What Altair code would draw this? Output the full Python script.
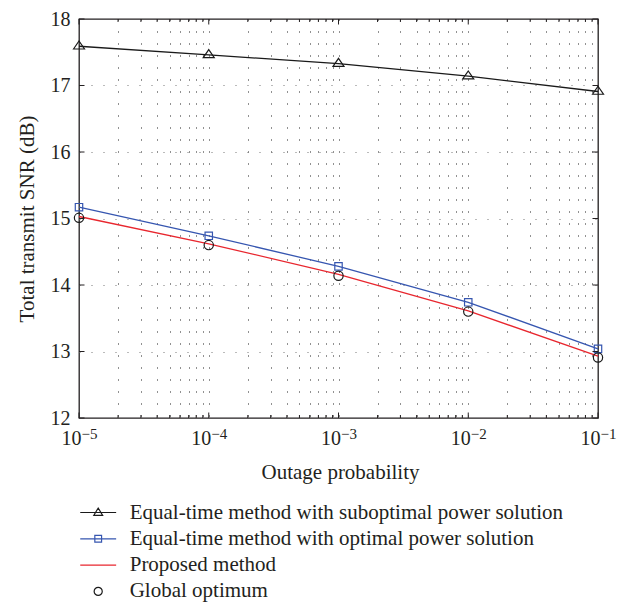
import altair as alt
import pandas as pd

# ---------------- data ----------------
x_vals = [1e-5, 1e-4, 1e-3, 1e-2, 1e-1]
suboptimal = [17.59, 17.46, 17.33, 17.14, 16.91]
optimal = [15.17, 14.74, 14.28, 13.74, 13.04]
proposed = [15.03, 14.62, 14.16, 13.61, 12.93]
global_opt = [15.01, 14.60, 14.14, 13.60, 12.91]

decades = [1e-5, 1e-4, 1e-3, 1e-2, 1e-1]
decade_base = ["10", "10", "10", "10", "10"]
decade_exp = ["\u22125", "\u22124", "\u22123", "\u22122", "\u22121"]
minor_mult = [2, 3, 4, 5, 6, 7, 8, 9]
y_ticks = [12, 13, 14, 15, 16, 17, 18]

names = [
    "Equal-time method with suboptimal power solution",
    "Equal-time method with optimal power solution",
    "Proposed method",
    "Global optimum",
]
colors = ["#1a1a1a", "#3656b0", "#e8262e", "#1a1a1a"]

# ---------------- styling ----------------
FONT = "Liberation Serif"
TXT = "#231f20"
PAD_TOP = 11
W, H = 519, 399

minor_x = [d * m for d in decades[:-1] for m in minor_mult]
grid_x = sorted(decades + minor_x)

xscale = alt.Scale(type="log", domain=[1e-5, 1e-1], nice=False)
yscale = alt.Scale(domain=[12, 18], nice=False, zero=False)

xaxis = alt.Axis(
    values=grid_x, grid=True, gridDash=[1, 11], gridColor="#222", gridWidth=1,
    gridOpacity={"condition": {"test": "datum.value < 1.5e-5 || datum.value > 0.095", "value": 0}, "value": 1},
    labels=False, ticks=False, domain=False,
    title="Outage probability", titleFont=FONT, titleFontSize=21, titleFontWeight="normal",
    titleColor=TXT, titleX=261, titleY=60, titleAlign="center", titleBaseline="alphabetic",
)
yaxis = alt.Axis(
    values=y_ticks, format="d", grid=True, gridDash=[1, 11], gridColor="#777", gridWidth=1,
    gridOpacity={"condition": {"test": "datum.value == 12 || datum.value == 18", "value": 0}, "value": 1},
    ticks=False, tickSize=0, domain=False, labelPadding=9,
    labelFont=FONT, labelFontSize=20, labelColor=TXT, labelBaseline="middle",
    title="Total transmit SNR (dB)", titleFont=FONT, titleFontSize=21, titleFontWeight="normal",
    titleColor=TXT, titleX=-52, titleY=H / 2, titleAngle=270, titleAlign="center", titleBaseline="middle",
)

X = alt.X("x:Q", scale=xscale, axis=xaxis)
Y = alt.Y("y:Q", scale=yscale, axis=yaxis)

def series_df(vals, name):
    return pd.DataFrame({"x": x_vals, "y": vals, "series": name})

df_sub = series_df(suboptimal, names[0])
df_opt = series_df(optimal, names[1])
df_pro = series_df(proposed, names[2])
df_glo = series_df(global_opt, names[3])
df_all = pd.concat([df_sub, df_opt, df_pro, df_glo])

# lines
l_sub = alt.Chart(df_sub).mark_line(color=colors[0], strokeWidth=1.3).encode(x=X, y=Y)
l_opt = alt.Chart(df_opt).mark_line(color=colors[1], strokeWidth=1.3).encode(x=X, y=Y)
l_pro = alt.Chart(df_pro).mark_line(color=colors[2], strokeWidth=1.3).encode(x=X, y=Y)

TRI = "M-1.1,0.55L0,-1.05L1.1,0.55Z"
m_sub = alt.Chart(df_sub).mark_point(shape=TRI, size=100, filled=False, color=colors[0],
                                     strokeWidth=1.2, opacity=1).encode(x=X, y=Y)
m_opt = alt.Chart(df_opt).mark_point(shape="square", size=55, filled=False, color=colors[1],
                                     strokeWidth=1.2, opacity=1).encode(x=X, y=Y)
m_glo = alt.Chart(df_glo).mark_point(shape="circle", size=86, filled=False, color=colors[3],
                                     strokeWidth=1.2, opacity=1).encode(x=X, y=Y)

# legend (symbols drawn by vega legend with custom paths)
leg_paths = [
    "M-1.33,0H1.33M-0.33,0.22L0,-0.33L0.33,0.22Z",
    "M-1.33,0H1.33M-0.25,-0.25H0.25V0.25H-0.25Z",
    "M-1.33,0H1.33",
    "M-0.3,0A0.3,0.3 0 1,0 0.3,0A0.3,0.3 0 1,0 -0.3,0",
]
legend = alt.Legend(
    orient="none", legendX=4.7, legendY=479, title=None, symbolSize=729,
    labelOffset=17, rowPadding=1.3, padding=0, labelFont=FONT, labelFontSize=21,
    labelColor=TXT, labelLimit=700, symbolStrokeWidth=1.2, symbolOpacity=1,
)
leg_layer = alt.Chart(df_all).mark_point(filled=False, opacity=0).encode(
    x=X, y=Y,
    color=alt.Color("series:N", scale=alt.Scale(domain=names, range=colors), legend=legend),
    shape=alt.Shape("series:N", scale=alt.Scale(domain=names, range=leg_paths), legend=legend),
)

# x tick labels  10^k
dec_df = pd.DataFrame({"x": decades, "base": decade_base, "exp": decade_exp})
lab_base = alt.Chart(dec_df).mark_text(align="right", dx=2.4, font=FONT, fontSize=20, color=TXT,
                                       baseline="alphabetic").encode(
    x=alt.X("x:Q", scale=xscale), y=alt.value(H + 27), text="base:N")
lab_exp = alt.Chart(dec_df).mark_text(align="left", dx=2.6, font=FONT, fontSize=15, color=TXT,
                                      baseline="alphabetic").encode(
    x=alt.X("x:Q", scale=xscale), y=alt.value(H + 21), text="exp:N")

# inward ticks
maj_df = pd.DataFrame({"x": decades})
min_df = pd.DataFrame({"x": minor_x})
yt_df = pd.DataFrame({"y": y_ticks})
TC = "#231f20"
t1 = alt.Chart(maj_df).mark_rule(color=TC, strokeWidth=1).encode(
    x=alt.X("x:Q", scale=xscale), y=alt.value(H), y2=alt.value(H - 5.5))
t2 = alt.Chart(maj_df).mark_rule(color=TC, strokeWidth=1).encode(
    x=alt.X("x:Q", scale=xscale), y=alt.value(0), y2=alt.value(5.5))
t3 = alt.Chart(min_df).mark_rule(color=TC, strokeWidth=1).encode(
    x=alt.X("x:Q", scale=xscale), y=alt.value(H), y2=alt.value(H - 3))
t4 = alt.Chart(min_df).mark_rule(color=TC, strokeWidth=1).encode(
    x=alt.X("x:Q", scale=xscale), y=alt.value(0), y2=alt.value(3))
t5 = alt.Chart(yt_df).mark_rule(color=TC, strokeWidth=1).encode(
    y=alt.Y("y:Q", scale=yscale), x=alt.value(0), x2=alt.value(5.5))
t6 = alt.Chart(yt_df).mark_rule(color=TC, strokeWidth=1).encode(
    y=alt.Y("y:Q", scale=yscale), x=alt.value(W), x2=alt.value(W - 5.5))

chart = alt.layer(
    leg_layer, l_sub, l_opt, l_pro, m_sub, m_opt, m_glo,
    lab_base, lab_exp, t1, t2, t3, t4, t5, t6,
).properties(
    width=W, height=H,
    padding={"left": 71, "top": PAD_TOP, "right": 28, "bottom": 611 - 16 - PAD_TOP - H},
    autosize=alt.AutoSizeParams(type="none"),
).configure_view(stroke=TC, strokeWidth=1.3)

chart.save("out.html", embed_options={"renderer": "svg", "actions": False})
